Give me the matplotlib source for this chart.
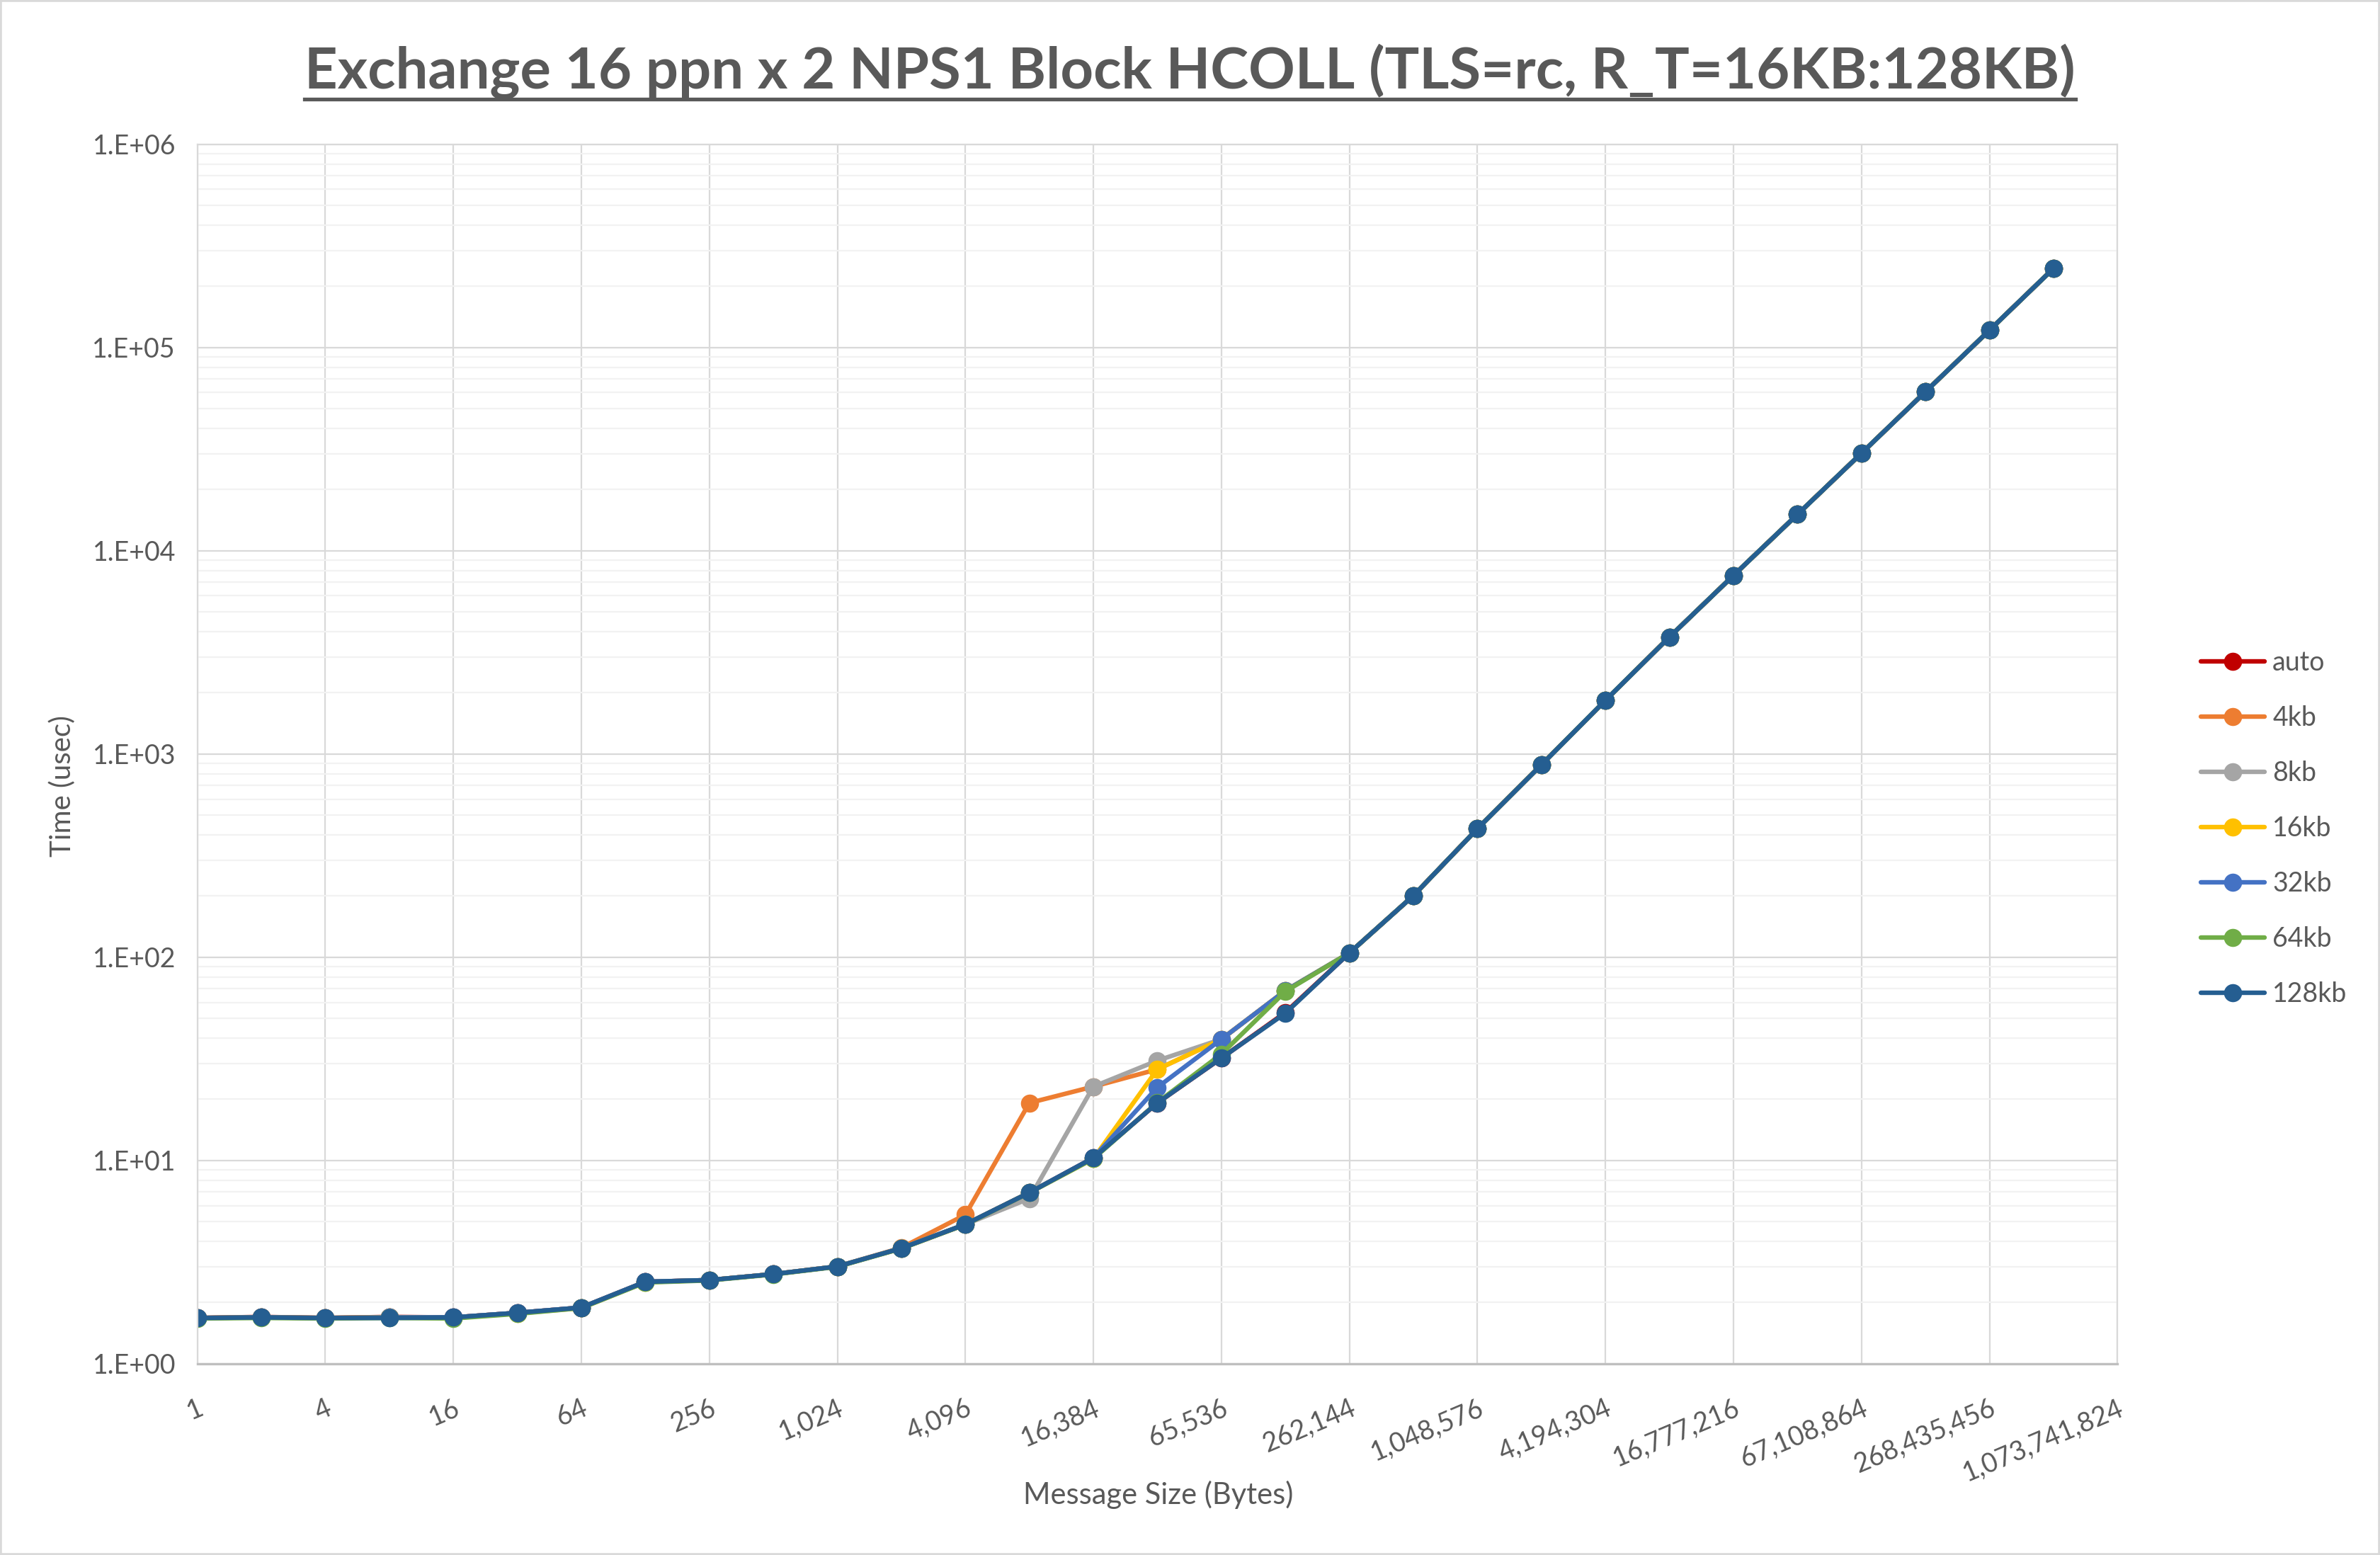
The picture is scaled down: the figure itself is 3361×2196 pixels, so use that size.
import numpy as np
import matplotlib as mpl
mpl.use("Agg")
import matplotlib.pyplot as plt
from matplotlib.lines import Line2D
from matplotlib.patches import Rectangle
from matplotlib.ticker import LogLocator, NullFormatter, FixedLocator, FixedFormatter

plt.rcParams["font.family"] = ["Lato", "DejaVu Sans"]

# message sizes in bytes (category axis)
sizes = [1, 2, 4, 8, 16, 32, 64, 128, 256, 512, 1024, 2048, 4096, 8192, 16384,
         32768, 65536, 131072, 262144, 524288, 1048576, 2097152, 4194304,
         8388608, 16777216, 33554432, 67108864, 134217728, 268435456,
         536870912, 1073741824]

# time in usec, one entry per message size (last size has no data)
t_auto = [1.68, 1.70, 1.68, 1.70, 1.69, 1.78, 1.89, 2.53, 2.58, 2.76, 3.01, 3.70,
          4.85, 6.95, 10.3, 19.2, 31.9, 53.5, 105, 201, 429, 885, 1837, 3764,
          7560, 15100, 30200, 60600, 121700, 245000]
t_4kb = [1.68, 1.69, 1.68, 1.69, 1.69, 1.78, 1.89, 2.53, 2.58, 2.76, 3.01, 3.72,
         5.41, 19.2, 23.1, 28.1, 39.5, 68.5, 105, 201, 429, 885, 1837, 3764,
         7560, 15100, 30200, 60600, 121700, 245000]
t_8kb = [1.68, 1.69, 1.68, 1.69, 1.69, 1.78, 1.89, 2.53, 2.58, 2.76, 3.01, 3.70,
         4.85, 6.50, 23.1, 31.0, 39.5, 68.5, 105, 201, 429, 885, 1837, 3764,
         7560, 15100, 30200, 60600, 121700, 245000]
t_16kb = [1.68, 1.69, 1.68, 1.69, 1.68, 1.77, 1.88, 2.52, 2.58, 2.76, 3.01, 3.69,
          4.84, 6.95, 10.2, 28.1, 39.5, 68.5, 105, 201, 429, 885, 1837, 3764,
          7560, 15100, 30200, 60600, 121700, 245000]
t_32kb = [1.68, 1.69, 1.68, 1.69, 1.69, 1.78, 1.89, 2.53, 2.58, 2.76, 3.01, 3.70,
          4.85, 6.95, 10.3, 22.9, 39.5, 68.5, 105, 201, 429, 885, 1837, 3764,
          7560, 15100, 30200, 60600, 121700, 245000]
t_64kb = [1.67, 1.68, 1.67, 1.68, 1.67, 1.76, 1.88, 2.51, 2.57, 2.75, 3.00, 3.69,
          4.84, 6.94, 10.2, 19.3, 33.4, 67.9, 105, 201, 429, 885, 1837, 3764,
          7560, 15100, 30200, 60600, 121700, 245000]
t_128kb = [1.68, 1.69, 1.68, 1.68, 1.69, 1.78, 1.89, 2.53, 2.58, 2.76, 3.01, 3.70,
           4.85, 6.95, 10.3, 19.2, 31.9, 53.1, 105, 201, 429, 885, 1837, 3764,
           7560, 15100, 30200, 60600, 121700, 245000]

series = [
    ("auto", t_auto, "#C00000"),
    ("4kb", t_4kb, "#ED7D31"),
    ("8kb", t_8kb, "#A5A5A5"),
    ("16kb", t_16kb, "#FFC000"),
    ("32kb", t_32kb, "#4472C4"),
    ("64kb", t_64kb, "#70AD47"),
    ("128kb", t_128kb, "#255E91"),
]

text_color = "#595959"
W, H, DPI = 3361, 2196, 200

fig = plt.figure(figsize=(W / DPI, H / DPI), dpi=DPI)
fig.patches.append(Rectangle((0, 0), 1, 1, transform=fig.transFigure,
                             fill=False, edgecolor="#D9D9D9", linewidth=2.0))

ax = fig.add_axes([0.0829, 0.123, 0.8068, 0.7842])

for name, vals, col in series:
    ax.plot(np.arange(len(vals)), vals, "-o", color=col, lw=2.3, ms=8.2,
            label=name, solid_capstyle="round", solid_joinstyle="round")

ax.set_yscale("log")
ax.set_ylim(1, 1e6)
ax.set_xlim(0, len(sizes) - 1)

yt = [1e0, 1e1, 1e2, 1e3, 1e4, 1e5, 1e6]
ax.yaxis.set_major_locator(FixedLocator(yt))
ax.yaxis.set_major_formatter(FixedFormatter(["1.E+%02d" % i for i in range(7)]))
ax.yaxis.set_minor_locator(LogLocator(base=10, subs=range(2, 10), numticks=100))
ax.yaxis.set_minor_formatter(NullFormatter())

xt = list(range(0, len(sizes), 2))
ax.set_xticks(xt)
ax.set_xticklabels(["{:,}".format(sizes[i]) for i in xt], rotation=23,
                   ha="right", va="top", rotation_mode="anchor")

ax.tick_params(axis="both", which="both", length=0, colors=text_color, labelsize=13.5)
ax.tick_params(axis="y", pad=11)
ax.tick_params(axis="x", pad=16)

ax.grid(True, which="major", axis="both", color="#D9D9D9", lw=0.8)
ax.grid(True, which="minor", axis="y", color="#F2F2F2", lw=0.8)
ax.set_axisbelow(True)
for s in ["top", "right", "left"]:
    ax.spines[s].set_color("#D9D9D9")
    ax.spines[s].set_linewidth(0.8)
ax.spines["bottom"].set_color("#BFBFBF")
ax.spines["bottom"].set_linewidth(1.2)

fig.text(88 / W, 1 - 1110 / H, "Time (usec)", rotation=90, ha="center",
         va="center", color=text_color, fontsize=14.5)
fig.text(1636 / W, 1 - 2111 / H, "Message Size (Bytes)", ha="center",
         va="center", color=text_color, fontsize=15)

title = fig.text(0.5, 1 - 124 / H,
                 "Exchange 16 ppn x 2 NPS1 Block HCOLL (TLS=rc, R_T=16KB:128KB)",
                 ha="center", va="baseline", color=text_color, fontsize=29.3,
                 fontweight="bold")

leg = fig.legend(loc="center left", bbox_to_anchor=(3108 / W, 1 - 1170 / H),
                 frameon=False, fontsize=13.5, labelcolor=text_color,
                 handlelength=2.4, handletextpad=0.3, labelspacing=1.12,
                 borderpad=0, borderaxespad=0)

fig.canvas.draw()
bb = title.get_window_extent(fig.canvas.get_renderer())
uy = 1 - 140 / H
fig.add_artist(Line2D([bb.x0 / W, bb.x1 / W], [uy, uy], transform=fig.transFigure,
                      color=text_color, lw=1.9))

fig.savefig("out.png", dpi=DPI)
